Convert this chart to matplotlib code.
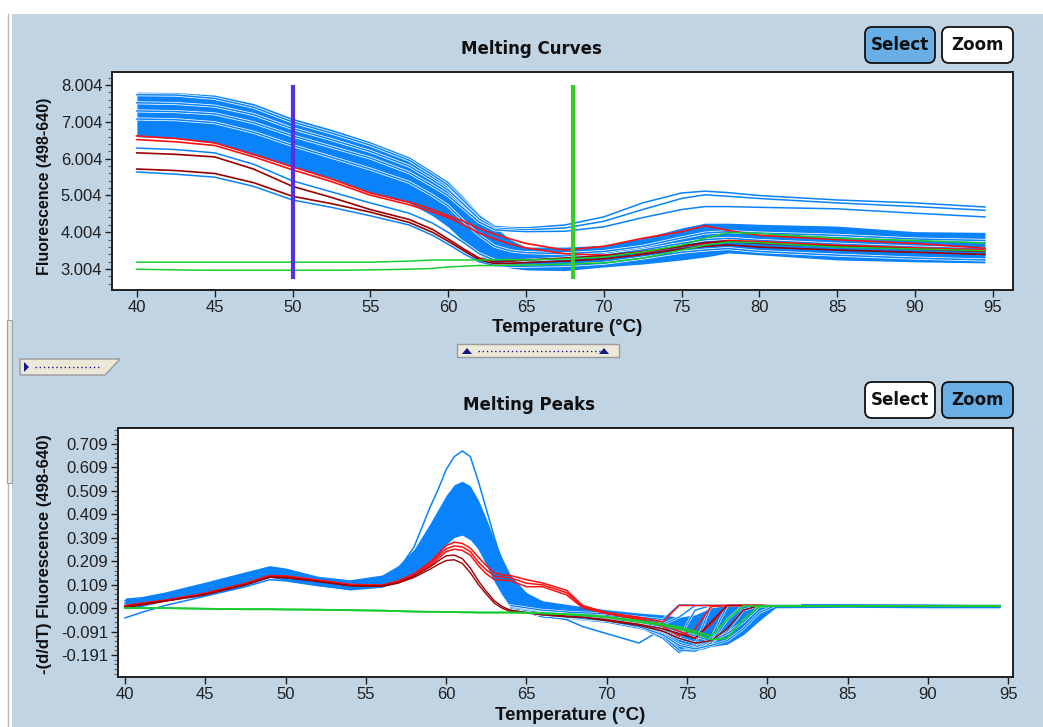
import numpy as np
import matplotlib
matplotlib.use("Agg")
import matplotlib.pyplot as plt
import matplotlib.patheffects as pe
from matplotlib.patches import Rectangle, FancyBboxPatch, Polygon
from matplotlib.lines import Line2D
from matplotlib.transforms import IdentityTransform
from matplotlib.ticker import AutoMinorLocator, FormatStrFormatter

plt.rcParams['axes.unicode_minus'] = False
plt.rcParams['font.family'] = ['Liberation Sans', 'DejaVu Sans']

# ---------------- Melting curves (fluorescence vs temperature) ----------------
T_top = [40, 42.5, 45, 47.5, 50, 52.5, 55, 57.5, 59, 60, 61, 62, 63, 64, 65,
         67.5, 70, 72.5, 75, 76.5, 78, 80, 85, 90, 94.5]

# envelope of the dense group of sample curves
curve_band_hi = [7.81, 7.80, 7.73, 7.50, 7.10, 6.80, 6.46, 6.05, 5.65, 5.38, 4.95, 4.50, 4.15,
                 3.80, 3.60, 3.60, 3.65, 3.84, 4.12, 4.25, 4.25, 4.22, 4.17, 4.02, 4.00]
curve_band_lo = [6.60, 6.55, 6.43, 6.10, 5.78, 5.47, 5.07, 4.80, 4.45, 4.15, 3.75, 3.38, 3.15,
                 3.03, 2.98, 2.96, 3.06, 3.14, 3.25, 3.33, 3.44, 3.39, 3.25, 3.20, 3.17]

# individual sample curves
curve_blue_u1 = [7.74, 7.73, 7.64, 7.40, 7.00, 6.70, 6.37, 5.96, 5.56, 5.28, 4.86, 4.44, 4.16,
                 4.13, 4.12, 4.20, 4.42, 4.80, 5.07, 5.12, 5.08, 5.00, 4.88, 4.80, 4.69]
curve_blue_u2 = [7.52, 7.50, 7.43, 7.20, 6.82, 6.52, 6.20, 5.80, 5.42, 5.15, 4.76, 4.36, 4.11,
                 4.09, 4.07, 4.12, 4.30, 4.62, 4.92, 5.02, 4.98, 4.92, 4.80, 4.70, 4.60]
curve_blue_u3 = [7.30, 7.28, 7.22, 6.98, 6.62, 6.32, 6.02, 5.62, 5.26, 5.00, 4.64, 4.28, 4.07,
                 4.04, 4.02, 4.03, 4.15, 4.40, 4.62, 4.70, 4.70, 4.68, 4.64, 4.52, 4.42]
curve_blue_m1 = [7.08, 7.06, 6.98, 6.72, 6.36, 6.04, 5.72, 5.36, 5.00, 4.72, 4.30, 3.92, 3.62,
                 3.50, 3.45, 3.42, 3.48, 3.62, 3.85, 3.98, 4.02, 3.98, 3.92, 3.82, 3.78]
curve_blue_b1 = [6.29, 6.25, 6.16, 5.85, 5.40, 5.10, 4.80, 4.52, 4.25, 4.00, 3.72, 3.42, 3.24,
                 3.22, 3.24, 3.30, 3.38, 3.52, 3.70, 3.80, 3.84, 3.78, 3.68, 3.60, 3.55]
curve_blue_b2 = [5.64, 5.58, 5.50, 5.25, 4.88, 4.68, 4.45, 4.20, 3.92, 3.68, 3.42, 3.20, 3.10,
                 3.08, 3.08, 3.10, 3.16, 3.30, 3.46, 3.52, 3.56, 3.48, 3.38, 3.30, 3.25]
curve_red_1 = [6.62, 6.55, 6.43, 6.12, 5.78, 5.45, 5.07, 4.82, 4.62, 4.45, 4.30, 4.10, 3.95,
               3.82, 3.70, 3.52, 3.62, 3.84, 4.02, 4.18, 4.05, 3.92, 3.80, 3.70, 3.57]
curve_red_2 = [6.52, 6.46, 6.36, 6.05, 5.70, 5.38, 5.01, 4.75, 4.55, 4.40, 4.20, 3.98, 3.82,
               3.68, 3.58, 3.42, 3.38, 3.45, 3.62, 3.70, 3.78, 3.75, 3.65, 3.58, 3.52]
curve_dred_1 = [6.16, 6.12, 6.05, 5.72, 5.25, 4.95, 4.62, 4.35, 4.08, 3.82, 3.55, 3.30, 3.20,
                3.22, 3.25, 3.30, 3.36, 3.48, 3.62, 3.72, 3.76, 3.70, 3.62, 3.55, 3.48]
curve_dred_2 = [5.72, 5.68, 5.60, 5.35, 4.98, 4.78, 4.55, 4.27, 4.00, 3.76, 3.50, 3.25, 3.15,
                3.16, 3.18, 3.22, 3.28, 3.40, 3.55, 3.62, 3.66, 3.60, 3.52, 3.46, 3.40]
curve_green_1 = [3.19, 3.19, 3.19, 3.19, 3.19, 3.19, 3.19, 3.22, 3.25, 3.25, 3.25, 3.25, 3.26,
                 3.26, 3.25, 3.28, 3.33, 3.47, 3.65, 3.84, 4.00, 3.97, 3.84, 3.78, 3.71]
curve_green_2 = [3.00, 2.98, 2.97, 2.97, 2.97, 2.97, 2.98, 3.00, 3.02, 3.06, 3.08, 3.10, 3.10,
                 3.11, 3.11, 3.14, 3.17, 3.30, 3.52, 3.65, 3.74, 3.72, 3.60, 3.55, 3.50]

cursor_temps = [50, 68]
cursor_range = [2.73, 8.004]

top_yticks = [3.004, 4.004, 5.004, 6.004, 7.004, 8.004]
x_ticks = [40, 45, 50, 55, 60, 65, 70, 75, 80, 85, 90, 95]

# ---------------- Melting peaks (-dF/dT vs temperature) ----------------
T_bot = [40, 41, 42.5, 45, 47.5, 49, 50, 52, 54, 56, 57, 58, 59, 59.5, 60, 60.5, 61, 61.5,
         62, 62.5, 63, 63.5, 64, 65, 66, 67.5, 68.5, 70, 72, 73.5, 74.5, 75.5, 76.5, 77.5,
         78.5, 79.5, 80.5, 85, 90, 94.5]

peak_band_hi = [0.052, 0.058, 0.078, 0.120, 0.164, 0.190, 0.180, 0.145, 0.130, 0.150,
                0.190, 0.260, 0.370, 0.430, 0.490, 0.535, 0.550, 0.530, 0.470, 0.390,
                0.300, 0.220, 0.150, 0.075, 0.040, 0.025, 0.015, 0.002, -0.012, -0.020,
                -0.030, -0.020, 0.010, 0.020, 0.020, 0.016, 0.024, 0.024, 0.022, 0.020]
peak_band_lo = [0.009, 0.015, 0.040, 0.062, 0.105, 0.140, 0.128, 0.105, 0.086, 0.098,
                0.120, 0.150, 0.200, 0.235, 0.280, 0.310, 0.320, 0.300, 0.260, 0.200,
                0.130, 0.070, 0.020, -0.012, -0.030, -0.035, -0.042, -0.052, -0.078, -0.112,
                -0.165, -0.175, -0.155, -0.145, -0.105, -0.045, 0.010, 0.012, 0.010, 0.010]

peak_blue_1 = [0.040, 0.045, 0.065, 0.100, 0.145, 0.170, 0.165, 0.135, 0.115, 0.130,
               0.170, 0.270, 0.440, 0.515, 0.600, 0.655, 0.679, 0.655, 0.550, 0.430,
               0.310, 0.200, 0.130, 0.045, 0.020, 0.005, 0.000, -0.020, -0.040, -0.060,
               -0.090, -0.110, -0.100, -0.060, -0.010, 0.020, 0.020, 0.020, 0.015, 0.015]
peak_blue_2 = [0.030, 0.038, 0.058, 0.092, 0.135, 0.162, 0.158, 0.128, 0.108, 0.122,
               0.160, 0.220, 0.320, 0.380, 0.440, 0.485, 0.500, 0.480, 0.420, 0.340,
               0.250, 0.170, 0.100, 0.040, 0.015, 0.005, 0.000, -0.010, -0.030, -0.050,
               -0.070, -0.130, -0.050, 0.015, 0.020, 0.020, 0.022, 0.022, 0.020, 0.018]
peak_blue_3 = [0.020, 0.028, 0.050, 0.080, 0.120, 0.150, 0.145, 0.118, 0.098, 0.110,
               0.130, 0.170, 0.240, 0.280, 0.320, 0.345, 0.350, 0.335, 0.290, 0.230,
               0.160, 0.100, 0.050, 0.000, -0.020, -0.030, -0.035, -0.045, -0.070, -0.100,
               -0.150, -0.160, -0.090, 0.010, 0.020, 0.020, 0.020, 0.020, 0.020, 0.018]
peak_blue_low = [-0.033, -0.010, 0.020, 0.060, 0.100, 0.130, 0.125, 0.105, 0.090, 0.100,
                 0.120, 0.150, 0.220, 0.260, 0.300, 0.330, 0.340, 0.320, 0.270, 0.200,
                 0.130, 0.070, 0.020, -0.010, -0.025, -0.040, -0.070, -0.100, -0.140, -0.080,
                 -0.100, -0.120, -0.070, 0.000, 0.020, 0.020, 0.020, 0.020, 0.020, 0.020]
peak_red_1 = [0.020, 0.030, 0.043, 0.073, 0.115, 0.148, 0.146, 0.129, 0.110, 0.107,
              0.125, 0.155, 0.205, 0.240, 0.275, 0.290, 0.285, 0.265, 0.226, 0.190,
              0.160, 0.150, 0.148, 0.130, 0.116, 0.085, 0.020, -0.010, -0.030, -0.050,
              0.020, 0.020, 0.020, 0.020, 0.020, 0.020, 0.018, 0.018, 0.018, 0.018]
peak_red_2 = [0.015, 0.025, 0.040, 0.068, 0.110, 0.143, 0.142, 0.125, 0.106, 0.104,
              0.120, 0.148, 0.190, 0.220, 0.250, 0.260, 0.255, 0.235, 0.190, 0.155,
              0.130, 0.128, 0.126, 0.100, 0.100, 0.065, 0.010, -0.015, -0.040, -0.060,
              -0.090, -0.120, -0.060, 0.020, 0.020, 0.020, 0.018, 0.018, 0.018, 0.018]
peak_red_3 = [0.018, 0.028, 0.042, 0.070, 0.112, 0.146, 0.144, 0.127, 0.108, 0.105,
              0.122, 0.152, 0.198, 0.230, 0.262, 0.274, 0.270, 0.250, 0.205, 0.172,
              0.145, 0.140, 0.138, 0.115, 0.108, 0.075, 0.015, -0.012, -0.035, -0.070,
              -0.110, -0.080, 0.015, 0.020, 0.020, 0.020, 0.018, 0.018, 0.018, 0.018]
peak_dred_1 = [0.015, 0.025, 0.040, 0.068, 0.110, 0.142, 0.140, 0.124, 0.105, 0.103,
               0.118, 0.145, 0.185, 0.210, 0.232, 0.235, 0.220, 0.180, 0.125, 0.080,
               0.040, 0.015, 0.000, -0.010, -0.015, -0.025, -0.030, -0.040, -0.060, -0.080,
               -0.100, -0.120, -0.050, 0.020, 0.020, 0.020, 0.018, 0.018, 0.018, 0.018]
peak_dred_2 = [0.012, 0.022, 0.038, 0.066, 0.108, 0.140, 0.138, 0.122, 0.104, 0.102,
               0.115, 0.140, 0.175, 0.195, 0.212, 0.215, 0.200, 0.160, 0.110, 0.068,
               0.030, 0.008, -0.005, -0.012, -0.020, -0.028, -0.030, -0.045, -0.065, -0.090,
               -0.120, -0.140, -0.130, -0.080, 0.000, 0.020, 0.018, 0.018, 0.018, 0.018]
peak_green_1 = [0.009, 0.009, 0.009, 0.006, 0.004, 0.004, 0.003, 0.002, 0.000, -0.002,
                -0.004, -0.006, -0.007, -0.007, -0.008, -0.008, -0.009, -0.009, -0.010, -0.010,
                -0.010, -0.010, -0.010, -0.011, -0.013, -0.017, -0.020, -0.028, -0.045, -0.060,
                -0.072, -0.090, -0.110, -0.040, 0.018, 0.018, 0.018, 0.018, 0.018, 0.018]
peak_green_2 = [0.009, 0.009, 0.009, 0.006, 0.004, 0.004, 0.003, 0.002, 0.000, -0.002,
                -0.004, -0.006, -0.007, -0.007, -0.008, -0.008, -0.009, -0.009, -0.010, -0.010,
                -0.010, -0.010, -0.010, -0.011, -0.013, -0.018, -0.022, -0.030, -0.050, -0.065,
                -0.080, -0.100, -0.125, -0.120, -0.040, 0.015, 0.018, 0.018, 0.018, 0.018]

# late-melting tails of several samples
T_tail = [64, 66, 68, 70, 72, 73.5, 74.5, 75.5, 76.5, 77.5, 78.5, 79.5, 80.5, 82]
tail_q1 = [0.020, 0.000, -0.010, -0.015, -0.030, -0.040, 0.022, 0.022, 0.022, 0.022, 0.022, 0.022, 0.022, 0.022]
tail_q2 = [0.010, -0.010, -0.020, -0.030, -0.050, -0.080, -0.120, 0.000, 0.020, 0.020, 0.020, 0.020, 0.020, 0.020]
tail_q3 = [0.000, -0.020, -0.030, -0.040, -0.070, -0.120, -0.180, -0.150, 0.020, 0.022, 0.022, 0.022, 0.022, 0.022]
tail_q4 = [0.000, -0.020, -0.035, -0.045, -0.065, -0.100, -0.140, -0.160, -0.120, 0.020, 0.020, 0.020, 0.020, 0.020]
tail_q5 = [0.000, -0.020, -0.030, -0.040, -0.060, -0.090, -0.120, -0.140, -0.140, -0.090, 0.000, 0.020, 0.020, 0.020]
tail_q6 = [0.000, -0.015, -0.025, -0.035, -0.050, -0.070, -0.090, -0.110, -0.130, -0.100, -0.050, 0.015, 0.022, 0.022]
tail_q7 = [0.005, -0.012, -0.022, -0.030, -0.045, -0.060, -0.030, 0.020, 0.020, 0.020, 0.020, 0.020, 0.020, 0.020]
tail_q8 = [0.000, -0.018, -0.030, -0.042, -0.062, -0.110, -0.170, -0.175, -0.140, -0.040, 0.020, 0.020, 0.020, 0.020]
tail_q9 = [0.000, -0.020, -0.032, -0.045, -0.070, -0.105, -0.150, -0.165, -0.150, -0.130, -0.080, -0.010, 0.020, 0.020]

bot_yticks = [-0.191, -0.091, 0.009, 0.109, 0.209, 0.309, 0.409, 0.509, 0.609, 0.709]

# ---------------- colours ----------------
PANEL = '#C1D4E4'
BLUE = '#0A82FA'
RED = '#FF1010'
DRED = '#9A0000'
GREEN = '#18CC30'
CURSOR = ['#5630E4', '#38CC28']
BTN_ON = '#6AAEE6'
NAVY = '#14148C'

W, H = 1043, 727
fig = plt.figure(figsize=(W / 100, H / 100), dpi=100)
fig.patch.set_facecolor('white')
ID = IdentityTransform()


def fy(y):
    return H - y


# window background and frame
fig.add_artist(Rectangle((12, 0), W - 12, H - 14, transform=ID, facecolor=PANEL,
                         edgecolor='none', zorder=-10))
fig.add_artist(Line2D([8, 8], [0, H - 14], transform=ID, color='#B8B8B8', lw=1, zorder=-9))
fig.add_artist(Rectangle((7, fy(483)), 5, 163, transform=ID, facecolor='#E4E4E0',
                         edgecolor='#A0A0A0', lw=0.8, zorder=-9))

white_edge = [pe.Stroke(linewidth=2.2, foreground='white'), pe.Normal()]


def style_axes(ax, xlim, ylim, yticks):
    ax.set_facecolor('white')
    ax.set_xlim(*xlim)
    ax.set_ylim(*ylim)
    ax.set_xticks(x_ticks)
    ax.set_yticks(yticks)
    ax.yaxis.set_major_formatter(FormatStrFormatter('%.3f'))
    ax.yaxis.set_minor_locator(AutoMinorLocator(5))
    ax.tick_params(axis='both', which='major', direction='out', length=5, width=1,
                   labelsize=12, pad=2, colors='#202020')
    ax.tick_params(axis='y', which='minor', direction='out', length=3, width=0.8,
                   colors='#606060')
    for s in ax.spines.values():
        s.set_linewidth(1.4)
        s.set_color('#202020')


# ---------------- top panel ----------------
ax1 = fig.add_axes([112 / W, 1 - 290 / H, 901 / W, 218 / H])
style_axes(ax1, (38.4, 96.3), (2.434, 8.357), top_yticks)

ax1.fill_between(T_top, curve_band_lo, curve_band_hi, color=BLUE, lw=0, zorder=1)
for c in (curve_blue_u1, curve_blue_u2, curve_blue_u3, curve_blue_m1,
          curve_blue_b1, curve_blue_b2):
    ax1.plot(T_top, c, color=BLUE, lw=1.1, zorder=2, path_effects=white_edge)
for c in (curve_red_1, curve_red_2):
    ax1.plot(T_top, c, color=RED, lw=1.2, zorder=3)
for c in (curve_dred_1, curve_dred_2):
    ax1.plot(T_top, c, color=DRED, lw=1.2, zorder=3)
for c in (curve_green_1, curve_green_2):
    ax1.plot(T_top, c, color=GREEN, lw=1.1, zorder=4)
ax1.vlines(cursor_temps, cursor_range[0], cursor_range[1], colors=CURSOR, lw=3, zorder=5)

# ---------------- bottom panel ----------------
ax2 = fig.add_axes([118 / W, 1 - 677 / H, 895 / W, 249 / H])
style_axes(ax2, (39.56, 95.3), (-0.285, 0.777), bot_yticks)

ax2.fill_between(T_bot, peak_band_lo, peak_band_hi, color=BLUE, lw=0, zorder=1)
for c in (peak_blue_1, peak_blue_2, peak_blue_3, peak_blue_low):
    ax2.plot(T_bot, c, color=BLUE, lw=1.1, zorder=2)
for c in (tail_q1, tail_q2, tail_q3, tail_q4, tail_q5, tail_q6, tail_q7, tail_q8, tail_q9):
    ax2.plot(T_tail, c, color=BLUE, lw=1.0, zorder=2,
             path_effects=[pe.Stroke(linewidth=1.8, foreground='white'), pe.Normal()])
for c in (peak_red_1, peak_red_2, peak_red_3):
    ax2.plot(T_bot, c, color=RED, lw=1.1, zorder=3)
for c in (peak_dred_1, peak_dred_2):
    ax2.plot(T_bot, c, color=DRED, lw=1.0, zorder=3)
for c in (peak_green_1, peak_green_2):
    ax2.plot(T_bot, c, color=GREEN, lw=1.3, zorder=4)

# ---------------- titles and axis labels ----------------
title_kw = dict(transform=ID, ha='center', va='center', fontsize=12, fontweight='bold',
                family=['DejaVu Sans'], color='#101010')
fig.text(531, fy(49), 'Melting Curves', **title_kw)
fig.text(529, fy(405), 'Melting Peaks', **title_kw)

xl_kw = dict(transform=ID, ha='center', va='center', fontsize=13.5, fontweight='bold',
             color='#101010')
fig.text(567, fy(328), 'Temperature (°C)', **xl_kw)
fig.text(570, fy(715), 'Temperature (°C)', **xl_kw)

yl_kw = dict(transform=ID, ha='center', va='center', fontweight='bold',
             rotation=90, color='#101010')
fig.text(45, fy(186), 'Fluorescence (498-640)', fontsize=11.5, **yl_kw)
fig.text(45, fy(554), '-(d/dT) Fluorescence (498-640)', fontsize=12, **yl_kw)


# ---------------- buttons ----------------
def button(x0, y0, x1, y1, label, active):
    fig.add_artist(FancyBboxPatch((x0 + 7, fy(y1) + 7), (x1 - x0) - 14, (y1 - y0) - 14,
                                  boxstyle='round,pad=7', transform=ID,
                                  facecolor=BTN_ON if active else 'white',
                                  edgecolor='#101010', lw=1.3, zorder=2))
    fig.text((x0 + x1) / 2, fy((y0 + y1) / 2), label, transform=ID, ha='center',
             va='center', fontsize=12, fontweight='bold', family=['DejaVu Sans'],
             color='#101010', zorder=3)


button(865, 27, 935, 63, 'Select', True)
button(942, 27, 1013, 63, 'Zoom', False)
button(865, 382, 935, 418, 'Select', False)
button(942, 382, 1013, 418, 'Zoom', True)

# ---------------- splitter handles ----------------
fig.add_artist(Rectangle((457, fy(357)), 162, 13, transform=ID, facecolor='#ECE9D8',
                         edgecolor='#9A9A9A', lw=1, zorder=2))
fig.add_artist(Line2D([478, 600], [fy(351), fy(351)], transform=ID, color=NAVY, lw=1,
                      ls=(0, (1, 2)), zorder=3))
for cx in (467, 604):
    fig.add_artist(Polygon([(cx - 5, fy(354)), (cx + 5, fy(354)), (cx, fy(348))],
                           closed=True, transform=ID, facecolor=NAVY, edgecolor='none',
                           zorder=3))
fig.add_artist(Polygon([(20, fy(359)), (120, fy(359)), (105, fy(375)), (20, fy(375))],
                       closed=True, transform=ID, facecolor='#ECE9D8', edgecolor='#9A9A9A',
                       lw=1, zorder=2))
fig.add_artist(Polygon([(24, fy(362)), (24, fy(372)), (29, fy(367))], closed=True,
                       transform=ID, facecolor=NAVY, edgecolor='none', zorder=3))
fig.add_artist(Line2D([35, 100], [fy(367), fy(367)], transform=ID, color=NAVY, lw=1,
                      ls=(0, (1, 2)), zorder=3))

fig.savefig('out.png', dpi=100)
